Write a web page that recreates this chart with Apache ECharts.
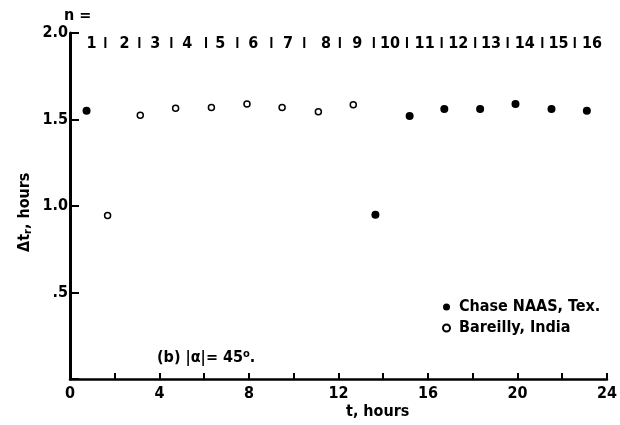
<!DOCTYPE html>
<html>
<head>
<meta charset="utf-8">
<script src="https://cdn.jsdelivr.net/npm/echarts@6/dist/echarts.min.js"></script>
<style>
html,body{margin:0;padding:0;background:#fff;}
#c{width:620px;height:425px;}
</style>
</head>
<body>
<div id="c"></div>
<script>
// ---- data ----
var chaseT     = [0.74, 13.65, 15.18, 16.73, 18.33, 19.91, 21.52, 23.1];
var chaseDt    = [1.55, 0.95, 1.52, 1.56, 1.56, 1.59, 1.56, 1.55];
var bareillyT  = [1.68, 3.14, 4.72, 6.32, 7.91, 9.48, 11.1, 12.66];
var bareillyDt = [0.945, 1.525, 1.565, 1.57, 1.59, 1.57, 1.545, 1.585];
var orbitNumbers = ['1','2','3','4','5','6','7','8','9','10','11','12','13','14','15','16'];
var orbitLabelT  = [0.96, 2.44, 3.81, 5.24, 6.72, 8.19, 9.74, 11.44, 12.84, 14.3, 15.85, 17.35, 18.82, 20.33, 21.83, 23.33];
var orbitSepT    = [1.58, 3.10, 4.53, 6.08, 7.48, 9.0, 10.47, 12.06, 13.58, 15.06, 16.61, 18.11, 19.56, 21.11, 22.56, 24.02];
var xTicks = [0, 4, 8, 12, 16, 20, 24];
var yTickLabels = {'2': '2.0', '1.5': '1.5', '1': '1.0', '0.5': '.5', '0': ''};
var seriesNames = ['Chase NAAS, Tex.', 'Bareilly, India'];

var FONT = "'DejaVu Sans Condensed', 'Liberation Sans Narrow', 'DejaVu Sans', sans-serif";
var FW = 'bold';
var FS = 16;
var ORBIT_Y = 1.936, SEP_Y = 1.945;

function zip(a, b) { return a.map(function (v, i) { return [v, b[i]]; }); }

var chart = echarts.init(document.getElementById('c'), null, {renderer: 'canvas'});
chart.setOption({
  animation: false,
  backgroundColor: '#fff',
  textStyle: {fontFamily: FONT, color: '#000'},
  grid: {left: 70, right: 8, top: 33, bottom: 46, containLabel: false},
  xAxis: {
    type: 'value', min: 0, max: 24, interval: 4,
    axisLine: {show: true, onZero: false, lineStyle: {color: '#000', width: 2.5}},
    axisTick: {show: true, inside: true, length: 6, lineStyle: {color: '#000', width: 2}},
    minorTick: {show: true, splitNumber: 2, length: 6, lineStyle: {color: '#000', width: 2}},
    splitLine: {show: false},
    axisLabel: {fontFamily: FONT, fontSize: FS, fontWeight: FW, color: '#000', margin: 7,
      formatter: function (v) { return xTicks.indexOf(v) >= 0 ? String(v) : ''; }}
  },
  yAxis: {
    type: 'value', min: 0, max: 2, interval: 0.5,
    axisLine: {show: true, onZero: false, lineStyle: {color: '#000', width: 3}},
    axisTick: {show: true, inside: true, length: 9, lineStyle: {color: '#000', width: 2}},
    splitLine: {show: false},
    axisLabel: {fontFamily: FONT, fontSize: FS, fontWeight: FW, color: '#000', margin: 2,
      formatter: function (v) { var k = String(v); return yTickLabels[k] !== undefined ? yTickLabels[k] : k; }}
  },
  legend: {
    orient: 'vertical', left: 437, top: 294, itemGap: 5,
    itemWidth: 7, itemHeight: 7,
    data: seriesNames,
    textStyle: {fontFamily: FONT, fontSize: FS, fontWeight: FW, color: '#000', padding: [0, 0, 0, 4]}
  },
  series: [
    {
      name: seriesNames[0], type: 'scatter', symbol: 'circle', symbolSize: 8,
      itemStyle: {color: '#000', opacity: 1},
      data: zip(chaseT, chaseDt)
    },
    {
      name: seriesNames[1], type: 'scatter', symbol: 'circle', symbolSize: 6,
      itemStyle: {color: '#fff', borderColor: '#000', borderWidth: 1.5, opacity: 1},
      data: zip(bareillyT, bareillyDt)
    },
    {
      name: 'orbits', type: 'scatter', symbolSize: 0, silent: true,
      itemStyle: {color: '#000', opacity: 1},
      label: {show: true, position: 'inside', fontFamily: FONT, fontSize: FS, fontWeight: FW, color: '#000',
        textBorderWidth: 0, opacity: 1,
        formatter: function (p) { return orbitNumbers[p.dataIndex]; }},
      data: orbitLabelT.map(function (t) { return [t, ORBIT_Y]; })
    },
    {
      name: 'separators', type: 'scatter', symbol: 'rect', symbolSize: [2, 11], silent: true,
      itemStyle: {color: '#000', opacity: 1},
      data: orbitSepT.map(function (t) { return [t, SEP_Y]; })
    }
  ],
  graphic: [
    {type: 'text', left: 64, top: 8, style: {text: 'n =', font: FW + ' ' + FS + 'px ' + FONT, fill: '#000'}},
    {type: 'text', x: 346, y: 404, style: {text: 't, hours', font: FW + ' ' + FS + 'px ' + FONT, fill: '#000'}},
    {type: 'text', x: 157, y: 349, style: {
      text: '{a|(b) |\u03b1|= 45}{s|o}{a|.}',
      rich: {a: {fontFamily: FONT, fontSize: 16, fontWeight: FW, fill: '#000', verticalAlign: 'bottom'},
             s: {fontFamily: FONT, fontSize: 11, fontWeight: FW, fill: '#000', verticalAlign: 'top', padding: [0, 0, 6, 0]}}
    }},
    {type: 'text', x: 15, y: 252, rotation: Math.PI / 2, style: {
      text: '{a|\u0394t}{s|r}{a|, hours}',
      rich: {a: {fontFamily: FONT, fontSize: FS, fontWeight: FW, fill: '#000'},
             s: {fontFamily: FONT, fontSize: 11, fontWeight: FW, fill: '#000', padding: [8, 0, 0, 0]}}
    }}
  ]
});
</script>
</body>
</html>
